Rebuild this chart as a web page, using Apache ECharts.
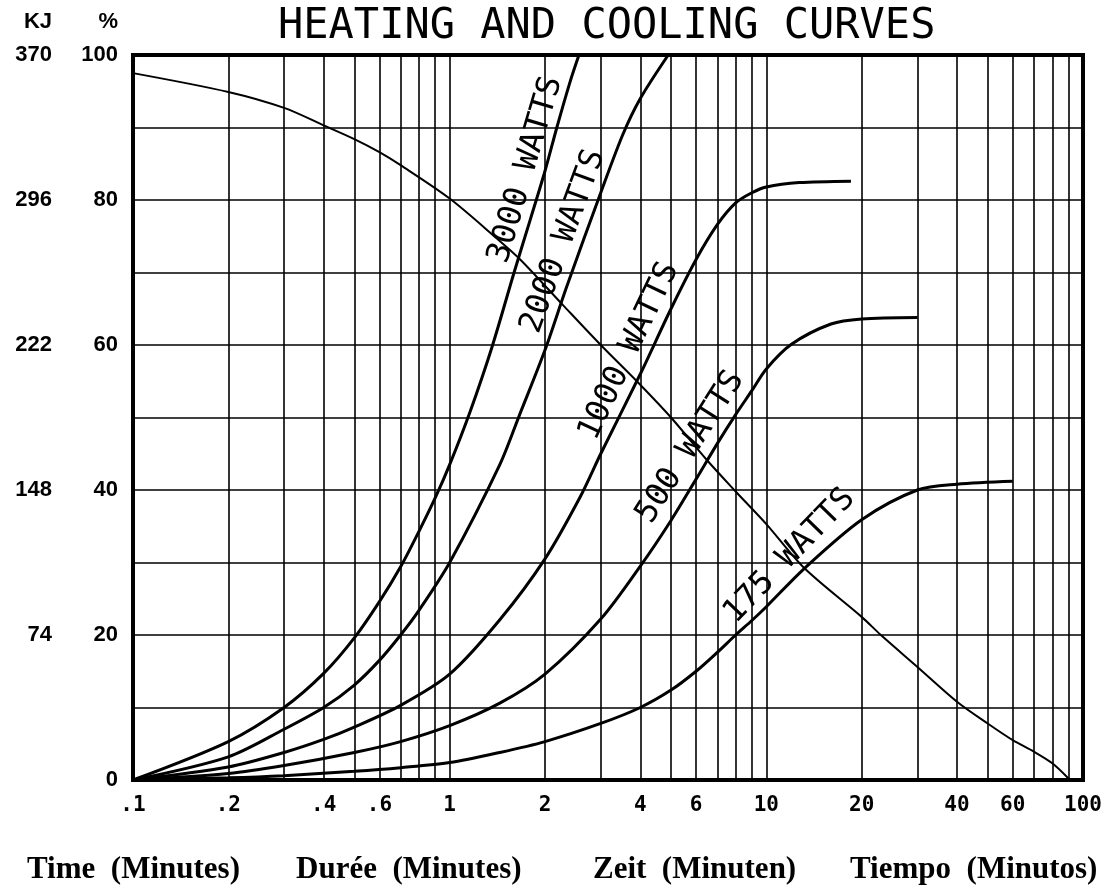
<!DOCTYPE html>
<html>
<head>
<meta charset="utf-8">
<title>Heating and Cooling Curves</title>
<script src="https://cdn.jsdelivr.net/npm/echarts@6/dist/echarts.min.js"></script>
<style>
  html, body { margin: 0; padding: 0; background: #fff; }
  #chart { width: 1112px; height: 888px; }
</style>
</head>
<body>
<div id="chart"></div>
<script>
// [time in minutes, % of full heat]  (100 % = 370 kJ)
const heat3000 = [[0.1, 0], [0.2, 5.3], [0.3, 10], [0.4, 14.7], [0.5, 19.6], [0.6, 24.6], [0.7, 29.4], [0.8, 34.3],
  [0.9, 38.9], [1, 43.5], [1.16, 50.8], [1.36, 59.7], [1.6, 70.1], [1.8, 77.4], [2, 84], [2.18, 90], [2.4, 96.3], [2.56, 100]];
const heat2000 = [[0.1, 0], [0.2, 3.2], [0.3, 7], [0.4, 10], [0.5, 13.1], [0.6, 16.5], [0.7, 20], [0.8, 23.4],
  [1, 30], [1.44, 43.5], [1.66, 50.3], [2, 59.3], [2.34, 68], [3, 81], [3.52, 89], [4, 94], [4.9, 100]];
const heat1000 = [[0.1, 0], [0.2, 1.8], [0.3, 3.8], [0.4, 5.6], [0.5, 7.3], [0.7, 10.3], [1, 14.6], [1.44, 22.1], [2, 30.5],
  [2.58, 39], [3, 45], [4, 56], [5, 65], [6, 71.8], [7, 76.6], [8, 79.6], [9, 81], [10, 81.8], [12.7, 82.4], [18.5, 82.6]];
const heat500 = [[0.1, 0], [0.2, 0.9], [0.3, 2], [0.5, 3.8], [0.7, 5.3], [1, 7.5], [1.44, 10.6], [2, 14.6], [3, 22.2],
  [4, 29.5], [5, 35.8], [6, 41.5], [7, 46.4], [8, 50.4], [9, 53.7], [10, 56.7], [12, 60.1], [16, 62.9], [20, 63.6], [30, 63.8]];
const heat175 = [[0.1, 0], [0.2, 0.3], [0.3, 0.6], [0.5, 1.2], [0.7, 1.7], [1, 2.4], [1.44, 3.8], [2, 5.3], [3, 7.8],
  [4, 10], [5, 12.4], [6, 15], [7, 17.6], [8, 20], [9, 22], [10, 23.9], [13.2, 29.2], [20, 35.9], [30, 40], [40, 40.8], [60, 41.2]];
const cooling = [[0.1, 97.5], [0.2, 94.9], [0.3, 92.7], [0.4, 90.3], [0.5, 88.4], [0.6, 86.6], [0.7, 84.8], [1, 80.2],
  [1.4, 74.8], [1.67, 71.8], [2.28, 65.5], [3, 60], [3.9, 55], [5, 50], [6.5, 44.1], [8, 39.8], [10, 35.3], [13.2, 29.2],
  [20, 22.5], [23, 20], [30, 15.6], [40, 10.8], [50, 7.8], [60, 5.5], [70, 3.9], [80, 2.3], [90, 0.2]];

const xTickValues = [0.1, 0.2, 0.4, 0.6, 1, 2, 4, 6, 10, 20, 40, 60, 100];
const xTickLabels = ['.1', '.2', '.4', '.6', '1', '2', '4', '6', '10', '20', '40', '60', '100'];
const xMinorLines = [0.2, 0.3, 0.4, 0.5, 0.6, 0.7, 0.8, 0.9, 2, 3, 4, 5, 6, 7, 8, 9, 20, 30, 40, 50, 60, 70, 80, 90];
const pctTicks = [0, 20, 40, 60, 80, 100];
const kjLabels = ['', '74', '148', '222', '296', '370'];
const xTitles = ['Time  (Minutes)', 'Durée  (Minutes)', 'Zeit  (Minuten)', 'Tiempo  (Minutos)'];

const chart = echarts.init(document.getElementById('chart'));

function curve(name, data, width) {
  return {
    name: name,
    type: 'line',
    data: data,
    smooth: 0.3,
    symbol: 'none',
    silent: true,
    lineStyle: { color: '#000', width: width },
    z: 5
  };
}

const bold = { fontFamily: 'Liberation Sans', fontWeight: 'bold', fontSize: 22, color: '#000' };

chart.setOption({
  animation: false,
  backgroundColor: '#fff',
  title: {
    text: 'HEATING AND COOLING CURVES',
    left: 273,
    top: 1,
    textStyle: { fontFamily: 'DejaVu Sans Mono', fontSize: 42, fontWeight: 'normal', color: '#000' }
  },
  grid: { left: 133, right: 29, top: 55, bottom: 108, show: true, borderColor: '#000', borderWidth: 4 },
  xAxis: {
    type: 'log',
    logBase: 10,
    min: 0.1,
    max: 100,
    axisLine: { show: false },
    axisTick: { show: false },
    axisLabel: { show: false },
    splitLine: { show: true, lineStyle: { color: '#000', width: 1.6 } }
  },
  yAxis: [
    {
      type: 'value', min: 0, max: 100, interval: 10, position: 'left',
      name: '%', nameLocation: 'end', nameGap: 22,
      nameTextStyle: Object.assign({}, bold, { align: 'right', padding: [0, 15, 0, 0] }),
      axisLine: { show: false },
      axisTick: { show: false },
      splitLine: { lineStyle: { color: '#000', width: 1.6 } },
      axisLabel: Object.assign({}, bold, {
        margin: 15,
        formatter: v => pctTicks.includes(v) ? String(v) : ''
      })
    },
    {
      type: 'value', min: 0, max: 100, interval: 10, position: 'left', offset: 73,
      name: 'KJ', nameLocation: 'end', nameGap: 22,
      nameTextStyle: Object.assign({}, bold, { align: 'right', padding: [0, 8, 0, 0] }),
      axisLine: { show: false },
      axisTick: { show: false },
      splitLine: { show: false },
      axisLabel: Object.assign({}, bold, {
        margin: 8,
        formatter: v => { const i = pctTicks.indexOf(v); return i >= 0 ? kjLabels[i] : ''; }
      })
    }
  ],
  series: [
    Object.assign(curve('cooling', cooling, 2), {
      markLine: {
        silent: true,
        symbol: 'none',
        label: { show: false },
        lineStyle: { color: '#000', width: 1.6, type: 'solid' },
        emphasis: { disabled: true },
        data: xMinorLines.map(v => ({ xAxis: v }))
      }
    }),
    curve('3000 WATTS', heat3000, 3),
    curve('2000 WATTS', heat2000, 3),
    curve('1000 WATTS', heat1000, 3),
    curve('500 WATTS', heat500, 3),
    curve('175 WATTS', heat175, 3)
  ]
});

// curve captions sit along each line: data point at text centre, angle in degrees
const curveLabels = [
  { text: '3000 WATTS', at: [1.79, 84.0], angle: 73.5 },
  { text: '2000 WATTS', at: [2.35, 74.1], angle: 70 },
  { text: '1000 WATTS', at: [3.79, 58.9], angle: 64.5 },
  { text: '500 WATTS', at: [5.91, 45.6], angle: 57.5 },
  { text: '175 WATTS', at: [12.1, 30.5], angle: 46 }
];

const toPx = p => chart.convertToPixel({ xAxisIndex: 0, yAxisIndex: 0 }, p);
const graphics = [];

xTickValues.forEach((v, i) => {
  const p = toPx([v, 0]);
  graphics.push({
    type: 'text', x: p[0], y: p[1] + 26, silent: true,
    style: {
      text: xTickLabels[i], fill: '#000', align: 'center', verticalAlign: 'middle',
      font: 'bold 21px "DejaVu Sans Mono"'
    }
  });
});

curveLabels.forEach(l => {
  const p = toPx(l.at);
  const a = l.angle * Math.PI / 180;
  // nudge a little toward the text's "up" side so glyphs sit beside the line
  graphics.push({
    type: 'text', x: p[0] - 4 * Math.sin(a), y: p[1] - 4 * Math.cos(a), rotation: a, silent: true,
    style: {
      text: l.text, fill: '#000', align: 'center', verticalAlign: 'middle',
      font: '32px "DejaVu Sans Mono"'
    }
  });
});

const titleLeft = [27, 296, 593, 850];
xTitles.forEach((t, i) => {
  graphics.push({
    type: 'text', x: titleLeft[i], y: 870, silent: true,
    style: {
      text: t, fill: '#000', align: 'left', verticalAlign: 'middle',
      font: 'bold 31px "Liberation Serif"'
    }
  });
});

chart.setOption({ graphic: graphics });
</script>
</body>
</html>
